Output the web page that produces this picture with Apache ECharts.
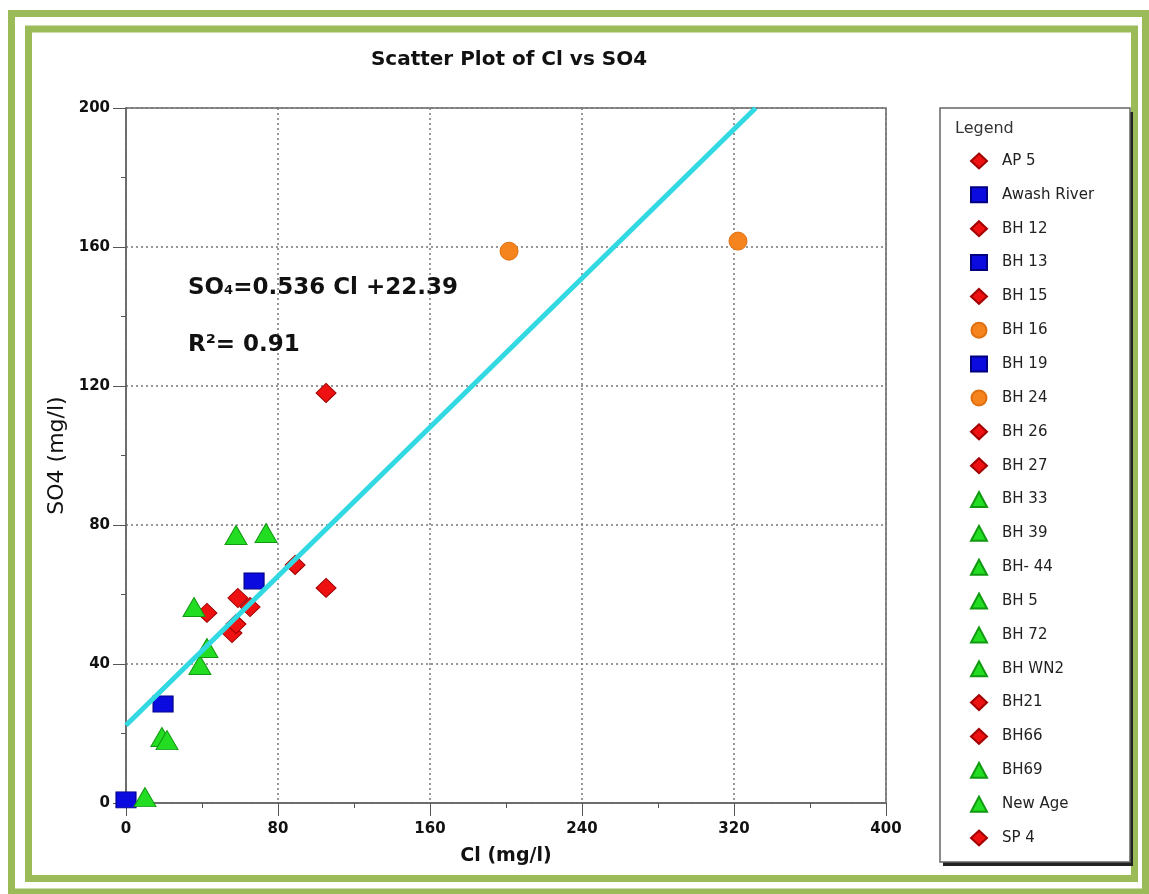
<!DOCTYPE html>
<html>
<head>
<meta charset="utf-8">
<script src="https://cdn.jsdelivr.net/npm/echarts@6/dist/echarts.min.js"></script>
<style>
  html, body { margin: 0; padding: 0; background: #fff; }
  #chart { width: 1149px; height: 894px; }
</style>
</head>
<body>
<div id="chart"></div>
<script>
// sample names as in the legend, with their marker group
var names = ["AP 5", "Awash River", "BH 12", "BH 13", "BH 15", "BH 16", "BH 19", "BH 24", "BH 26", "BH 27",
  "BH 33", "BH 39", "BH- 44", "BH 5", "BH 72", "BH WN2", "BH21", "BH66", "BH69", "New Age", "SP 4"];
var groups = ["red", "blue", "red", "blue", "red", "orange", "blue", "orange", "red", "red",
  "green", "green", "green", "green", "green", "green", "red", "red", "green", "green", "red"];
// Cl (mg/l) and SO4 (mg/l)
var clValues = [105.3, 0, 42.6, 19.5, 55.8, 201.6, 67.4, 322.1, 57.9, 58.9,
  10, 18.9, 21.6, 38.9, 42.6, 35.8, 65.3, 89, 57.9, 73.7, 105.3];
var so4Values = [118, 0.9, 54.7, 28.5, 48.9, 158.8, 63.9, 161.7, 51.5, 59,
  1.7, 19, 18.1, 39.7, 44.6, 56.4, 56.4, 68.5, 77.1, 77.7, 61.9];
// regression line end points
var trendCl = [0, 331.4];
var trendSo4 = [22.39, 200];

var FONT = "DejaVu Sans";

var styles = {
  red: { symbol: "diamond", size: [20, 19], color: "#ee1111", border: "#a00000" },
  blue: { symbol: "rect", size: [20, 16], color: "#0b0be0", border: "#000080" },
  orange: { symbol: "circle", size: 18, color: "#f5841f", border: "#e07010" },
  green: { symbol: "triangle", size: [22, 19], color: "#22dd22", border: "#119911" }
};

var series = names.map(function (n, i) {
  var s = styles[groups[i]];
  return {
    name: n,
    type: "scatter",
    symbol: s.symbol,
    symbolSize: s.size,
    itemStyle: { color: s.color, borderColor: s.border, borderWidth: 1, opacity: 1 },
    data: [[clValues[i], so4Values[i]]],
    z: 3
  };
});
series.push({
  name: "trend",
  type: "line",
  data: trendCl.map(function (c, i) { return [c, trendSo4[i]]; }),
  symbol: "none",
  lineStyle: { color: "#33d9e2", width: 5 },
  z: 5,
  silent: true
});

var chart = echarts.init(document.getElementById("chart"));
var axisCommon = {
  axisLine: { show: true, lineStyle: { color: "#666", width: 1.5 } },
  axisTick: { show: true, inside: false, length: 13, lineStyle: { color: "#555" } },
  minorTick: { show: true, splitNumber: 2, length: 5, lineStyle: { color: "#555" } },
  splitLine: { show: true, lineStyle: { color: "#777", width: 1.5, type: [2, 3] } },
  axisLabel: { color: "#111", fontSize: 15, fontWeight: "bold", fontFamily: FONT },
  nameLocation: "middle"
};

chart.setOption({
  backgroundColor: "#fff",
  animation: false,
  title: {
    text: "Scatter Plot of Cl vs SO4",
    left: 504, top: 45, textAlign: "center",
    textStyle: { color: "#111", fontSize: 20, fontWeight: "bold", fontFamily: FONT }
  },
  grid: { left: 126, right: 263, top: 108, bottom: 91, show: true, borderColor: "#666", borderWidth: 1.5, backgroundColor: "#fff" },
  xAxis: Object.assign({}, axisCommon, {
    type: "value", min: 0, max: 400, interval: 80,
    name: "Cl (mg/l)", nameGap: 44,
    nameTextStyle: { color: "#111", fontSize: 19, fontWeight: "bold", fontFamily: FONT },
    axisLabel: Object.assign({}, axisCommon.axisLabel, { margin: 19 })
  }),
  yAxis: Object.assign({}, axisCommon, {
    type: "value", min: 0, max: 200, interval: 40,
    name: "SO4 (mg/l)", nameGap: 54,
    nameTextStyle: { color: "#111", fontSize: 22, fontFamily: FONT },
    axisLabel: Object.assign({}, axisCommon.axisLabel, { margin: 16 })
  }),
  legend: {
    data: names,
    orient: "vertical",
    left: 970, top: 152, height: 720, padding: 0,
    itemWidth: 16, itemHeight: 15, itemGap: 15.85,
    textStyle: { color: "#222", fontSize: 15, lineHeight: 18, fontFamily: FONT, padding: [0, 0, 0, 10] },
    selectedMode: false
  },
  graphic: [
    { type: "rect", z: -10, shape: { x: 11.5, y: 13.5, width: 1134, height: 878.5 }, style: { fill: "none", stroke: "#9bbb59", lineWidth: 7 } },
    { type: "rect", z: -10, shape: { x: 28.5, y: 29, width: 1106, height: 849.5 }, style: { fill: "none", stroke: "#9bbb59", lineWidth: 7 } },
    // legend frame: dark drop shadow then white box
    { type: "rect", z: -6, shape: { x: 943, y: 112, width: 190, height: 754 }, style: { fill: "#222" } },
    { type: "rect", z: -5, shape: { x: 940, y: 108, width: 190, height: 754 }, style: { fill: "#fff", stroke: "#666", lineWidth: 1.5 } },
    { type: "text", left: 955, top: 121, style: { text: "Legend", fill: "#333", fontSize: 16, fontFamily: FONT } },
    { type: "text", left: 188, top: 277, z: 10,
      style: {
        text: "{a|SO}{s|4}{a|=0.536 Cl +22.39}",
        rich: {
          a: { fontSize: 23, fontWeight: "bold", fill: "#111", fontFamily: FONT },
          s: { fontSize: 13, fontWeight: "bold", fill: "#111", fontFamily: FONT, verticalAlign: "bottom", padding: [0, 0, 3, 0] }
        }
      } },
    { type: "text", left: 188, top: 334, z: 10,
      style: { text: "R\u00b2= 0.91", fill: "#111", fontSize: 23, fontWeight: "bold", fontFamily: FONT } }
  ],
  series: series
});
</script>
</body>
</html>
